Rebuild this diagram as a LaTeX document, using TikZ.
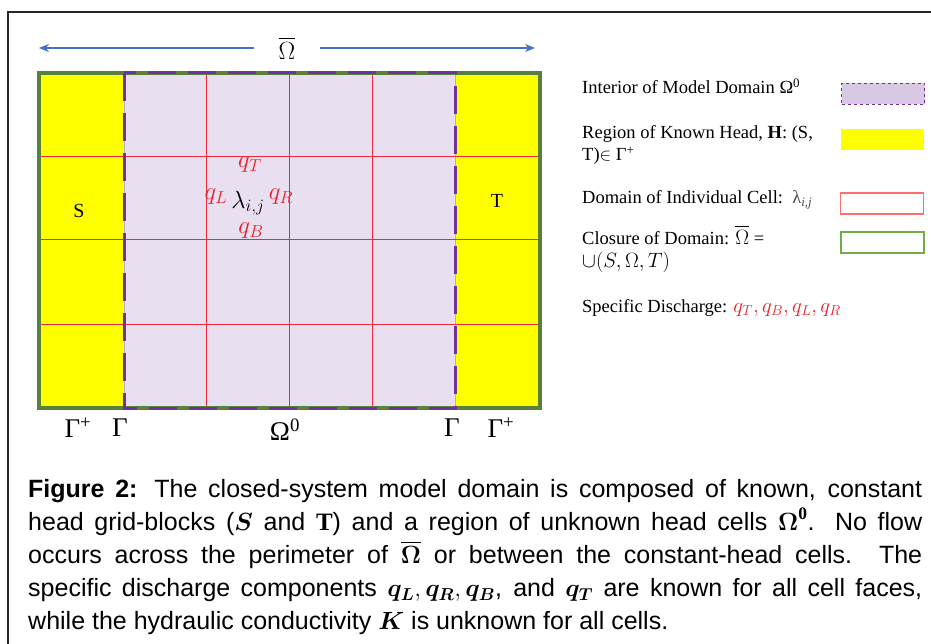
\documentclass[tikz,border=0pt]{standalone}
\usepackage{amsmath,amssymb}
\usepackage{fontspec}
\setmainfont{Liberation Serif}
\newfontfamily\capfont{Liberation Sans}
\usetikzlibrary{arrows.meta}

\definecolor{headyellow}{RGB}{255,255,0}
\definecolor{interiorfill}{RGB}{232,224,240}
\definecolor{domainpurple}{RGB}{112,48,160}
\definecolor{closuregreen}{RGB}{88,128,58}
\definecolor{gridred}{RGB}{240,40,60}
\definecolor{qred}{RGB}{235,30,40}
\definecolor{arrowblue}{RGB}{68,114,196}
\definecolor{legpurple}{RGB}{216,200,228}
\definecolor{cellred}{RGB}{255,110,110}
\definecolor{legendgreen}{RGB}{112,173,71}

\newcommand{\legmath}[1]{{\fontsize{22}{18}\selectfont$#1$}}

\begin{document}
\begin{tikzpicture}[x=1pt, y=-1pt,
    lbl/.style={font=\fontsize{20}{20}\selectfont, inner sep=0pt},
    botlbl/.style={font=\fontsize{27}{27}\selectfont, inner sep=0pt},
    qlbl/.style={text=qred, font=\fontsize{25}{25}\selectfont, inner sep=0pt},
    gridln/.style={draw=gridred, line width=1pt},
    interiorline/.style={draw=domainpurple, line width=3pt, dash pattern=on 28pt off 12pt},
    closureline/.style={draw=closuregreen, line width=4pt},
    arr/.style={-{Stealth[length=10pt, width=8pt]}, draw=arrowblue, line width=1.2pt},
    legtext/.style={anchor=base west, inner sep=0pt, font=\fontsize{18.5}{18}\selectfont},
    legbox/.style={minimum width=83pt, minimum height=21pt, inner sep=0pt}
  ]
    \useasboundingbox (0,0) rectangle (931,644);
    \draw[line width=1.5pt, black!85] (8,644) -- (8,12) -- (931,12);

    % span of the closed domain
    \node[font=\fontsize{32}{32}\selectfont, inner xsep=24pt, inner ysep=0pt] (omegabar) at (287,48) {$\overline{\Omega}$};
    \coordinate (spanL) at (39,48);
    \coordinate (spanR) at (535,48);
    \draw[arr] (omegabar) -- (spanL);
    \draw[arr] (omegabar) -- (spanR);

    % constant head columns and interior
    \fill[headyellow] (39,73) rectangle (124,408);
    \fill[headyellow] (455,73) rectangle (540,408);
    \filldraw[fill=interiorfill, draw=gray!60, line width=0.5pt] (124,73) rectangle (455,408);
    \foreach \y in {157,240,324}
      \draw[gridln] (39,\y) -- (540,\y);
    \foreach \x in {206,289,372}
      \draw[gridln] (\x,73) -- (\x,408);
    \draw[closureline] (39,73) rectangle (540,408);
    \draw[interiorline] (124,73) rectangle (455,408);

    \node[lbl] (srcS) at (79,211) {S};
    \node[lbl] (srcT) at (497,201) {T};

    % one cell
    \node[qlbl] (qT) at (250,165) {$q_T$};
    \node[qlbl] (qL) at (216,197) {$q_L$};
    \node[lbl, font=\fontsize{25}{25}\selectfont] (lam) at (248,203) {$\lambda_{i,j}$};
    \node[qlbl] (qR) at (281,197) {$q_R$};
    \node[qlbl] (qB) at (251,231) {$q_B$};

    % boundaries
    \node[botlbl] (gplusL) at (78,428) {Γ\textsuperscript{+}};
    \node[botlbl] (gammaL) at (120,428) {Γ};
    \node[botlbl] (omzero) at (285,430) {Ω\textsuperscript{0}};
    \node[botlbl] (gammaR) at (452,428) {Γ};
    \node[botlbl] (gplusR) at (501,428) {Γ\textsuperscript{+}};

    % legend
    \node[legtext] (legint) at (582,94) {Interior of Model Domain Ω\textsuperscript{0}};
    \node[legtext] (leghead) at (582,139) {Region of Known Head, \textbf{H}: (S,};
    \node[legtext] (leghead2) at (582,161) {T)$\in$ Γ\textsuperscript{+}};
    \node[legtext] (legcell) at (582,204) {Domain of Individual Cell:\ \ \textcolor{black!70}{λ\textsubscript{\textit{i,j}}}};
    \node[legtext] (legclos) at (582,244) {Closure of Domain: \legmath{\overline{\Omega}} =};
    \node[legtext] (legclos2) at (582,267) {\legmath{\cup(S,\Omega,T)}};
    \node[legtext] (legq) at (582,312) {Specific Discharge: \textcolor{qred}{\legmath{q_T, q_B, q_L, q_R}}};

    \node[legbox, fill=legpurple, draw=domainpurple, dashed, line width=1pt] (keyint) at (883,94) {};
    \node[legbox, fill=headyellow] (keyhead) at (882,139.5) {};
    \node[legbox, draw=cellred, line width=1.5pt] (keycell) at (882,203.5) {};
    \node[legbox, draw=legendgreen, line width=2pt] (keyclos) at (882,243) {};

    % caption
    \node[anchor=north west, inner sep=0pt, text width=894pt, align=justify,
          font=\capfont\fontsize{25}{33}\selectfont] (caption) at (28,479)
      {{\bfseries Figure 2:} The closed-system model domain is composed of known, constant\linebreak
       head grid-blocks ($\boldsymbol{S}$ and $\mathbf{T}$) and a region of unknown head cells $\boldsymbol{\Omega}^{\mathbf{0}}$. No flow\linebreak
       occurs across the perimeter of $\boldsymbol{\overline{\Omega}}$ or between the constant-head cells. The\linebreak
       specific discharge components $\boldsymbol{q_L}, \boldsymbol{q_R}, \boldsymbol{q_B}$, and $\boldsymbol{q_T}$ are known for all cell faces,\linebreak
       while the hydraulic conductivity $\boldsymbol{K}$ is unknown for all cells.};
\end{tikzpicture}
\end{document}
